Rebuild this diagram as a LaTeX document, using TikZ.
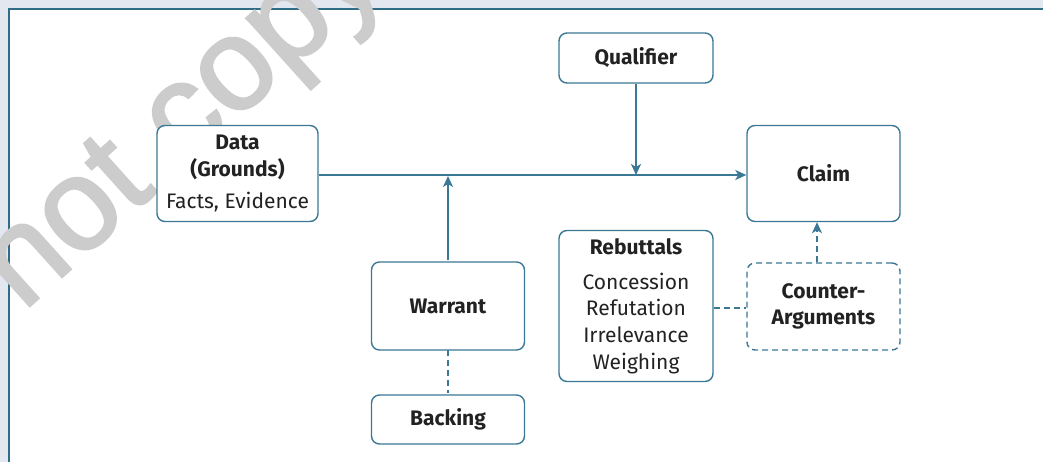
\documentclass[tikz,border=0pt]{standalone}
\usepackage{fontspec}
\setmainfont{Fira Sans}
\newfontfamily\wmfont[FakeBold=2]{Liberation Sans}
\usetikzlibrary{arrows.meta}
\definecolor{edge}{HTML}{3B7895}
\definecolor{frameline}{HTML}{2F6C85}
\definecolor{bgout}{HTML}{E3E7EF}
\definecolor{ink}{HTML}{222222}
\definecolor{wm}{HTML}{CCCCCC}
\tikzset{
  box/.style={draw=edge, line width=1.4pt, rounded corners=8pt, fill=white,
    align=center, text=ink, inner sep=0pt, font=\fontsize{21}{26.7}\selectfont},
  dbox/.style={box, dash pattern=on 6pt off 4pt},
  arr/.style={draw=edge, line width=1.5pt, -{Stealth[length=11pt,width=10pt,inset=3pt]}},
  link/.style={draw=edge, line width=1.5pt},
  dlink/.style={link, dash pattern=on 6pt off 4pt},
  wmtext/.style={wm, rotate=42, inner sep=0pt, font=\wmfont\fontsize{130}{130}\selectfont},
}
\begin{document}
\begin{tikzpicture}[x=1pt,y=-1pt]
\useasboundingbox (0,0) rectangle (1043,462);
% frame
\fill[bgout] (0,0) rectangle (1043,462);
\fill[white] (9,9) rectangle (1043,462);
\draw[frameline, line width=1.5pt] (9,462) -- (9,9) -- (1043,9);
% watermark
\begin{scope}
\clip (0,0) rectangle (1043,462);
\node[wmtext, anchor=base west] (wm) at (23,312) {not copy};
\end{scope}
% nodes
\node[box, minimum width=161pt, minimum height=96pt] (data) at (237.5,173.5)
  {\textbf{Data}\\\textbf{(Grounds)}\\[5pt]Facts, Evidence};
\node[box, minimum width=154pt, minimum height=50pt] (qual) at (636,58) {\textbf{Qualifier}};
\node[box, minimum width=153pt, minimum height=96pt] (claim) at (823.5,173.5) {\textbf{Claim}};
\node[box, minimum width=153pt, minimum height=88pt] (warrant) at (448,306) {\textbf{Warrant}};
\node[box, minimum width=153pt, minimum height=49pt] (backing) at (448,419.5) {\textbf{Backing}};
\node[box, minimum width=154pt, minimum height=151pt] (reb) at (636,306)
  {\textbf{Rebuttals}\\[8pt]Concession\\Refutation\\Irrelevance\\Weighing};
\node[dbox, minimum width=153pt, minimum height=87pt] (counter) at (823.5,306.5)
  {\textbf{Counter-}\\\textbf{Arguments}};
% connectors
\coordinate (mstart) at ([yshift=-1.5pt]data.east);
\coordinate (mend) at ([yshift=-1.5pt]claim.west);
\draw[arr] (mstart) -- (mend);
\coordinate (qj) at (qual.south |- mstart);
\draw[arr] (qual.south) -- (qj);
\coordinate (wj) at ([yshift=-1pt]warrant.north |- mstart);
\draw[arr] ([yshift=1pt]warrant.north) -- (wj);
\draw[dlink] ([yshift=1pt]warrant.south) -- ([yshift=1pt]backing.north);
\coordinate (rj) at ([yshift=-1.5pt]counter.west);
\draw[dlink] (reb.east |- rj) -- (rj);
\draw[arr, dash pattern=on 6pt off 4pt] ([xshift=-6.5pt]counter.north) -- ([xshift=-6.5pt]claim.south);
\end{tikzpicture}
\end{document}
